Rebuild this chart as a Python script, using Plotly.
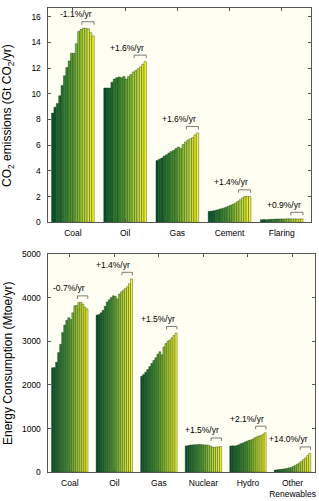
import plotly.graph_objects as go

years = list(range(2000, 2018))

co2_categories = ["Coal", "Oil", "Gas", "Cement", "Flaring"]
co2_coal = [8.5, 8.95, 9.25, 9.85, 10.65, 11.4, 12.05, 12.55, 13.15, 13.15, 13.9, 14.85, 15.0, 15.1, 15.1, 15.05, 14.75, 14.5]
co2_oil = [10.45, 10.45, 10.45, 10.9, 11.15, 11.25, 11.3, 11.25, 11.35, 11.15, 11.35, 11.5, 11.7, 11.8, 11.95, 12.1, 12.3, 12.5]
co2_gas = [4.8, 4.9, 5.0, 5.15, 5.25, 5.4, 5.5, 5.6, 5.75, 5.85, 5.75, 6.05, 6.25, 6.4, 6.5, 6.6, 6.8, 6.95]
co2_cement = [0.85, 0.87, 0.9, 0.95, 1.0, 1.05, 1.1, 1.17, 1.25, 1.32, 1.4, 1.5, 1.62, 1.75, 1.9, 2.02, 2.0, 2.0]
co2_flaring = [0.2, 0.21, 0.2, 0.22, 0.23, 0.24, 0.25, 0.25, 0.26, 0.26, 0.26, 0.27, 0.27, 0.26, 0.26, 0.26, 0.26, 0.27]
co2_rates = ["-1.1%/yr", "+1.6%/yr", "+1.6%/yr", "+1.4%/yr", "+0.9%/yr"]

en_categories = ["Coal", "Oil", "Gas", "Nuclear", "Hydro", "Other<br>Renewables"]
en_coal = [2390, 2400, 2520, 2740, 2930, 3200, 3370, 3480, 3540, 3500, 3650, 3810, 3820, 3890, 3890, 3850, 3780, 3740]
en_oil = [3600, 3610, 3650, 3710, 3800, 3900, 3950, 4000, 4040, 4030, 3970, 4080, 4130, 4170, 4210, 4250, 4320, 4430]
en_gas = [2200, 2240, 2290, 2350, 2420, 2490, 2560, 2620, 2700, 2760, 2690, 2870, 2950, 3000, 3030, 3080, 3130, 3190]
en_nuclear = [600, 610, 620, 625, 630, 630, 635, 635, 630, 625, 625, 615, 600, 575, 570, 575, 580, 590]
en_hydro = [600, 605, 600, 610, 630, 650, 670, 690, 710, 730, 740, 760, 790, 810, 830, 840, 870, 905]
en_other = [50, 55, 60, 65, 72, 80, 90, 100, 115, 135, 160, 185, 215, 250, 290, 330, 380, 430]
en_rates = ["-0.7%/yr", "+1.4%/yr", "+1.5%/yr", "+1.5%/yr", "+2.1%/yr", "+14.0%/yr"]

co2_values = [co2_coal, co2_oil, co2_gas, co2_cement, co2_flaring]
en_values = [en_coal, en_oil, en_gas, en_nuclear, en_hydro, en_other]

W, H = 319, 501
STEP = 22
N = len(years)

anchors = [(0.0, (0, 82, 42)), (0.45, (70, 150, 45)), (0.75, (175, 215, 50)), (1.0, (245, 245, 45))]


def color_at(t):
    for (t0, c0), (t1, c1) in zip(anchors[:-1], anchors[1:]):
        if t <= t1:
            f = (t - t0) / (t1 - t0)
            return "rgb(%d,%d,%d)" % tuple(round(a + (b - a) * f) for a, b in zip(c0, c1))
    return "rgb(%d,%d,%d)" % anchors[-1][1]


colors = [color_at(i / (N - 1)) for i in range(N)]

fig = go.Figure()
shapes = []
annotations = []


def add_panel(values, rates, xa, ya):
    for g, vals in enumerate(values):
        xs = [g * STEP + i for i in range(N)]
        fig.add_trace(go.Bar(
            x=xs, y=vals, width=1, customdata=years,
            marker=dict(color=colors, line=dict(color="rgba(30,40,30,0.75)", width=0.5)),
            xaxis=xa, yaxis=ya, showlegend=False,
        ))
        top = max(vals)
        x0 = g * STEP + 12.3
        x1 = g * STEP + 17.4
        shapes.append(dict(
            type="path", xref=xa, yref=ya, ysizemode="pixel", yanchor=top,
            path="M %g,3.5 L %g,6.5 L %g,6.5 L %g,3.5" % (x0, x0, x1, x1),
            line=dict(color="#7a7a7a", width=1),
        ))
        annotations.append(dict(
            x=g * STEP + 17.5, y=top, xref=xa, yref=ya, text=rates[g],
            showarrow=False, xanchor="right", yanchor="middle", yshift=14, xshift=-0.5,
            font=dict(size=8.5, color="black"),
        ))


add_panel(co2_values, co2_rates, "x", "y")
add_panel(en_values, en_rates, "x2", "y2")

tickfont = dict(family="Liberation Sans, Arial, sans-serif", size=8.5, color="black")
axis_common = dict(
    showline=True, linecolor="#555555", linewidth=1, mirror="ticks",
    ticks="inside", ticklen=3, tickcolor="#555555", tickfont=tickfont,
    showgrid=False, zeroline=False, fixedrange=True,
)

fig.update_layout(
    width=W, height=H,
    margin=dict(l=0, r=0, t=0, b=0),
    paper_bgcolor="white",
    plot_bgcolor="#fefef2",
    bargap=0,
    barmode="overlay",
    hovermode=False,
    font=dict(family="Liberation Sans, Arial, sans-serif", color="black"),
    xaxis=dict(domain=[47.7 / W, 311.7 / W], range=[-2.18, 108.7], anchor="y",
               tickvals=[g * STEP + 8.5 for g in range(len(co2_categories))],
               ticktext=co2_categories, ticklabelstandoff=3, **axis_common),
    yaxis=dict(domain=[(H - 221.7) / H, (H - 2.7) / H], range=[0, 16.7], anchor="x",
               tickvals=list(range(0, 17, 2)), ticklabelstandoff=4, **axis_common),
    xaxis2=dict(domain=[47.7 / W, 316 / W], range=[-2.47, 129.6], anchor="y2",
                tickvals=[g * STEP + 8.5 for g in range(len(en_categories))],
                ticktext=en_categories, ticklabelstandoff=3, **axis_common),
    yaxis2=dict(domain=[(H - 476.7) / H, (H - 254) / H], range=[0, 5000], anchor="x2",
                tickvals=list(range(0, 5001, 1000)), ticklabelstandoff=4, **axis_common),
    shapes=shapes,
)

annotations.append(dict(
    x=8 / W, y=(H - 112.2) / H, xref="paper", yref="paper", textangle=-90,
    text="CO<sub>2</sub> emissions (Gt CO<sub>2</sub>/yr)", showarrow=False,
    xanchor="center", yanchor="middle", font=dict(size=12, color="black"),
))
annotations.append(dict(
    x=8 / W, y=(H - 365.3) / H, xref="paper", yref="paper", textangle=-90,
    text="Energy Consumption (Mtoe/yr)", showarrow=False,
    xanchor="center", yanchor="middle", font=dict(size=12, color="black"),
))
fig.update_layout(annotations=annotations)

fig.write_html("out.html", config={"displayModeBar": False, "staticPlot": True},
               post_script="document.body.style.margin='0';document.body.style.overflow='hidden';")
